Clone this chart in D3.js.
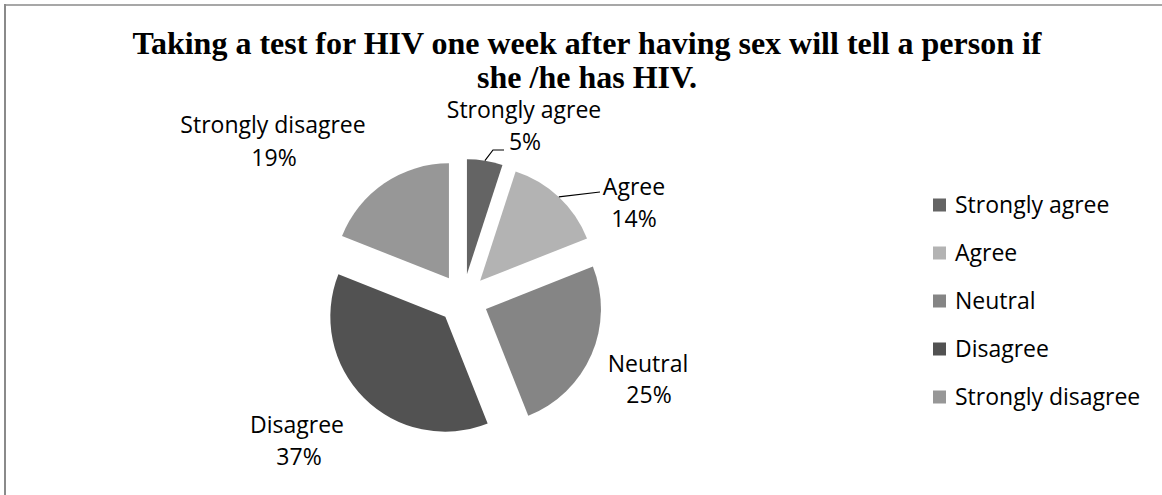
<!DOCTYPE html>
<html>
<head>
<meta charset="utf-8">
<script src="https://cdn.jsdelivr.net/npm/d3@7"></script>
<style>
  html, body { margin: 0; padding: 0; background: #fff; }
  svg { display: block; }
</style>
</head>
<body>
<svg id="chart" width="1162" height="495"></svg>
<script>
// Survey responses, share of respondents (%)
const categories = ["Strongly agree", "Agree", "Neutral", "Disagree", "Strongly disagree"];
const values = [5, 14, 25, 37, 19];
const titleLines = [
  "Taking a test for HIV one week after having sex will tell a person if",
  "she /he has HIV."
];

// Styling and layout
const colors = ["#646464", "#b3b3b3", "#858585", "#525252", "#979797"];
const W = 1162, H = 495;
const center = { x: 463, y: 299 };
const radius = 115;
const explode = 25;
const labelFont = "'Open Sans', 'Noto Sans', sans-serif";
const labelSize = 23;
// label anchor: x centre of name/percent lines and their baselines
const labelPos = [
  { nx: 524, ny: 118, px: 525, py: 150, leader: [[493, 150], [504, 150]] },
  { nx: 634, ny: 195, px: 634, py: 227, leader: [[600, 192]] },
  { nx: 648, ny: 372, px: 649, py: 403, leader: null },
  { nx: 297, ny: 433, px: 299, py: 465, leader: null },
  { nx: 273, ny: 133, px: 274, py: 166, leader: null }
];

const svg = d3.select("#chart");

// frame edges
svg.append("line").attr("x1", 5).attr("x2", 5).attr("y1", 4).attr("y2", H)
  .attr("stroke", "#8a8a8a").attr("stroke-width", 2);
svg.append("line").attr("x1", 4).attr("x2", W).attr("y1", 5).attr("y2", 5)
  .attr("stroke", "#8a8a8a").attr("stroke-width", 1.5);

// title
svg.append("g").selectAll("text").data(titleLines).join("text")
  .attr("x", 587)
  .attr("y", (d, i) => 54 + i * 34)
  .attr("text-anchor", "middle")
  .attr("font-family", "'Liberation Serif', 'Times New Roman', serif")
  .attr("font-weight", "bold")
  .attr("font-size", 32)
  .attr("fill", "#000")
  .text(d => d);

// pie
const pie = d3.pie().sort(null).value(d => d.value).startAngle(0).endAngle(2 * Math.PI);
const arcs = pie(categories.map((c, i) => ({ name: c, value: values[i], i })));
const arc = d3.arc().innerRadius(0).outerRadius(radius);

const color = d3.scaleOrdinal().domain(categories).range(colors);

const offset = a => {
  const mid = (a.startAngle + a.endAngle) / 2;
  return [explode * Math.sin(mid), -explode * Math.cos(mid)];
};

const slices = svg.append("g").attr("transform", `translate(${center.x},${center.y})`);
slices.selectAll("path").data(arcs).join("path")
  .attr("transform", d => `translate(${offset(d)[0]},${offset(d)[1]})`)
  .attr("d", arc)
  .attr("fill", d => color(d.data.name));

// leader lines from slice edge to label
arcs.forEach((a, i) => {
  const lp = labelPos[i];
  if (!lp.leader) return;
  const mid = (a.startAngle + a.endAngle) / 2;
  const [ox, oy] = offset(a);
  const sx = center.x + ox + radius * Math.sin(mid);
  const sy = center.y + oy - radius * Math.cos(mid);
  const pts = [[sx, sy]].concat(lp.leader);
  svg.append("path")
    .attr("d", d3.line()(pts))
    .attr("fill", "none")
    .attr("stroke", "#000")
    .attr("stroke-width", 1.2);
});

// data labels
const labels = svg.append("g")
  .attr("font-family", labelFont)
  .attr("font-size", labelSize)
  .attr("fill", "#000")
  .attr("text-anchor", "middle");
arcs.forEach((a, i) => {
  const lp = labelPos[i];
  labels.append("text").attr("x", lp.nx).attr("y", lp.ny).text(a.data.name);
  labels.append("text").attr("x", lp.px).attr("y", lp.py)
    .text(Math.round(a.data.value) + "%");
});

// legend
const legendY = d3.scalePoint().domain(categories).range([205, 397]);
const legend = svg.append("g");
const items = legend.selectAll("g").data(categories).join("g")
  .attr("transform", d => `translate(933,${legendY(d)})`);
items.append("rect").attr("x", 0).attr("y", -6.5).attr("width", 13).attr("height", 13)
  .attr("fill", d => color(d));
items.append("text").attr("x", 22).attr("y", 8)
  .attr("font-family", labelFont).attr("font-size", labelSize).attr("fill", "#000")
  .text(d => d);
</script>
</body>
</html>
